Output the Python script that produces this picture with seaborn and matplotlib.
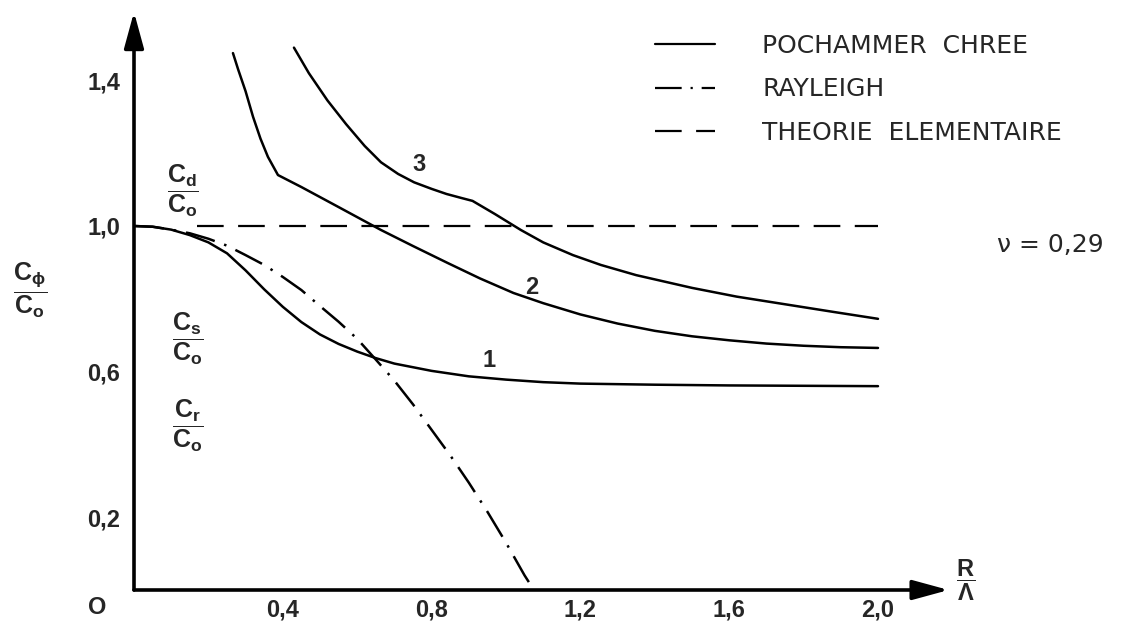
import matplotlib
matplotlib.use("Agg")
import matplotlib.pyplot as plt
from matplotlib.lines import Line2D
import pandas as pd
import seaborn as sns

## Values (R/Lambda -> Cphi/Co)
# mode 1 of Pochammer-Chree
mode1_x = [0.0, 0.05, 0.1, 0.15, 0.2, 0.25, 0.3, 0.35, 0.4, 0.45, 0.5, 0.55, 0.6, 0.65,
           0.7, 0.8, 0.9, 1.0, 1.1, 1.2, 1.4, 1.6, 1.8, 2.0]
mode1_y = [1.0, 0.998, 0.99, 0.975, 0.955, 0.925, 0.878, 0.826, 0.778, 0.736, 0.702, 0.676,
           0.655, 0.637, 0.622, 0.602, 0.587, 0.578, 0.571, 0.567, 0.564, 0.562, 0.561, 0.56]
# mode 2
mode2_x = [0.266, 0.28, 0.30, 0.32, 0.34, 0.36, 0.387, 0.45, 0.55, 0.664, 0.75, 0.844, 0.93,
           1.02, 1.1, 1.2, 1.3, 1.4, 1.5, 1.6, 1.7, 1.8, 1.9, 2.0]
mode2_y = [1.475, 1.43, 1.37, 1.30, 1.24, 1.19, 1.14, 1.107, 1.052, 0.989, 0.945, 0.898, 0.856,
           0.816, 0.788, 0.757, 0.732, 0.712, 0.697, 0.686, 0.677, 0.671, 0.667, 0.665]
# mode 3
mode3_x = [0.43, 0.47, 0.52, 0.57, 0.62, 0.664, 0.71, 0.753, 0.80, 0.84, 0.88, 0.91, 0.97,
           1.04, 1.10, 1.18, 1.255, 1.35, 1.5, 1.62, 1.75, 1.88, 2.0]
mode3_y = [1.49, 1.42, 1.345, 1.28, 1.22, 1.175, 1.143, 1.12, 1.102, 1.088, 1.077, 1.069, 1.033,
           0.989, 0.955, 0.92, 0.893, 0.865, 0.83, 0.806, 0.785, 0.764, 0.745]
# Rayleigh
rayl_x = [0.0, 0.05, 0.1, 0.15, 0.2, 0.25, 0.3, 0.35, 0.4, 0.45, 0.5, 0.55, 0.6, 0.65, 0.7,
          0.75, 0.8, 0.85, 0.9, 0.95, 1.0, 1.05, 1.075]
rayl_y = [1.0, 0.998, 0.99, 0.98, 0.965, 0.946, 0.92, 0.893, 0.86, 0.824, 0.78, 0.737, 0.69,
          0.633, 0.575, 0.51, 0.44, 0.37, 0.295, 0.215, 0.13, 0.04, 0.0]
# theorie elementaire
elem_x = [0.17, 2.0]
elem_y = [1.0, 1.0]

xticks = [0.2, 0.4, 0.6, 0.8, 1.0, 1.2, 1.4, 1.6, 1.8, 2.0]
xtick_labels = ["", "0,4", "", "0,8", "", "1,2", "", "1,6", "", "2,0"]
yticks = [0.2, 0.4, 0.6, 0.8, 1.0, 1.2, 1.4]
ytick_labels = ["0,2", "", "0,6", "", "1,0", "", "1,4"]
ratio_ticks = [0.57, 0.64, 1.13]   # Cr/Co, Cs/Co, Cd/Co marks

sns.set_style("white")
plt.rcParams['font.family'] = ['Liberation Sans', 'DejaVu Sans']
plt.rcParams['mathtext.fontset'] = 'custom'
plt.rcParams['mathtext.rm'] = 'Liberation Sans:bold'
plt.rcParams['mathtext.it'] = 'Liberation Sans:bold'
plt.rcParams['mathtext.bf'] = 'Liberation Sans:bold'

fig = plt.figure(figsize=(11.37, 6.4), dpi=100)
ax = fig.add_axes([134/1137, 50/640, 2.2*372/1137, 1.6*364/640])

lw = 1.8
for xs, ys in [(mode1_x, mode1_y), (mode2_x, mode2_y), (mode3_x, mode3_y)]:
    sns.lineplot(x=xs, y=ys, color="black", lw=lw, sort=False, estimator=None, ax=ax)
sns.lineplot(x=rayl_x, y=rayl_y, color="black", lw=lw, sort=False, estimator=None, ax=ax)
ax.lines[-1].set_dashes([12, 4, 1, 4])
sns.lineplot(x=elem_x, y=elem_y, color="black", lw=1.6, sort=False, estimator=None, ax=ax)
ax.lines[-1].set_dashes([12, 6.5])

ax.set_xlim(0, 2.2)
ax.set_ylim(0, 1.6)
for s in ax.spines.values():
    s.set_visible(False)

# axes with arrows
arrow = dict(arrowstyle="-|>,head_length=1.1,head_width=0.3", lw=2.6, color="black",
             mutation_scale=20, shrinkA=0, shrinkB=0)
ax.annotate("", xy=(0, 1.588), xytext=(0, 0), arrowprops=arrow, annotation_clip=False)
ax.annotate("", xy=(2.19, 0), xytext=(0, 0), arrowprops=arrow, annotation_clip=False)

ax.set_xticks(xticks)
ax.set_xticklabels(xtick_labels, fontsize=17, fontweight="bold")
ax.set_yticks(yticks)
ax.set_yticklabels(ytick_labels, fontsize=17, fontweight="bold")
ax.set_yticks(ratio_ticks, minor=True)
ax.tick_params(axis="y", which="major", direction="in", length=7, width=1.3, pad=10)
ax.tick_params(axis="x", which="major", direction="in", length=7, width=1.3, pad=6)
ax.tick_params(axis="y", which="minor", direction="inout", length=14, width=1.3)
ax.text(-0.1, -0.047, "O", fontsize=17, fontweight="bold", ha="center", va="center", clip_on=False)

# mode numbers
ax.text(0.955, 0.63, "1", fontsize=17, fontweight="bold", ha="center", va="center")
ax.text(1.07, 0.83, "2", fontsize=17, fontweight="bold", ha="center", va="center")
ax.text(0.765, 1.17, "3", fontsize=17, fontweight="bold", ha="center", va="center")

# ratio labels near the axis
ax.text(0.13, 1.096, r"$\dfrac{\mathrm{C_d}}{\mathrm{C_o}}$", fontsize=18, ha="center", va="center")
ax.text(0.145, 0.69, r"$\dfrac{\mathrm{C_s}}{\mathrm{C_o}}$", fontsize=18, ha="center", va="center")
ax.text(0.145, 0.45, r"$\dfrac{\mathrm{C_r}}{\mathrm{C_o}}$", fontsize=18, ha="center", va="center")

# axis titles
ax.text(-0.28, 0.824, r"$\dfrac{\mathrm{C_\phi}}{\mathrm{C_o}}$", fontsize=18, ha="center", va="center", clip_on=False)
ax.text(2.235, 0.027, r"$\dfrac{\mathrm{R}}{\Lambda}$", fontsize=17, ha="center", va="center", clip_on=False)

ax.text(2.32, 0.948, "\u03bd = 0,29", fontsize=18, family="DejaVu Sans",
        ha="left", va="center", clip_on=False)

handles = [Line2D([], [], color="black", lw=1.6),
           Line2D([], [], color="black", lw=1.6, dashes=[12, 4, 1, 4]),
           Line2D([], [], color="black", lw=1.6, dashes=[12, 6.5])]
labels = ["POCHAMMER  CHREE", "RAYLEIGH", "THEORIE  ELEMENTAIRE"]
fig.legend(handles, labels, loc="upper left", bbox_to_anchor=(655/1137, 1 - 34/640),
           frameon=False, prop={"family": "DejaVu Sans", "size": 18}, handlelength=2.4,
           handletextpad=1.9, labelspacing=0.78, borderpad=0, borderaxespad=0)

plt.savefig("out.png", dpi=100)
